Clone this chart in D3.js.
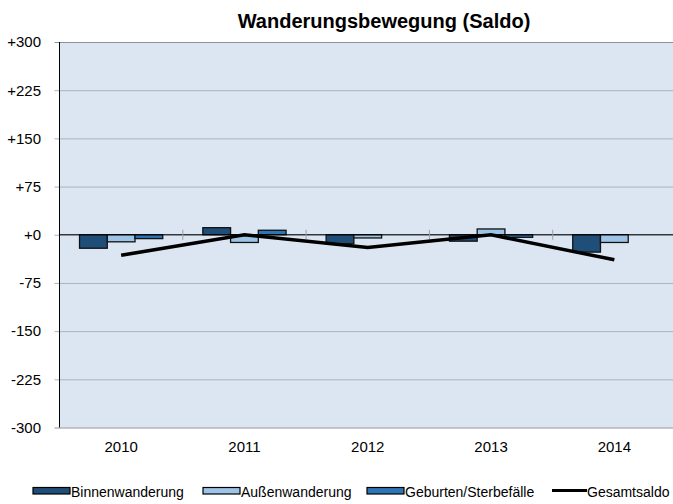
<!DOCTYPE html>
<html>
<head>
<meta charset="utf-8">
<script src="https://cdn.jsdelivr.net/npm/d3@7"></script>
<style>
  body { margin: 0; background: #fff; }
  svg { display: block; font-family: "Liberation Sans", Arial, sans-serif; }
</style>
</head>
<body>
<div id="container"></div>
<script>
const years = ["2010", "2011", "2012", "2013", "2014"];
const seriesNames = ["Binnenwanderung", "Außenwanderung", "Geburten/Sterbefälle"];
const binnen = [-21, 11, -14, -10, -27];
const aussen = [-11, -12, -5, 9, -12];
const geburten = [-6, 7, 0, -4, 0];
const gesamt = [-32, 0, -20, 0, -39];
const yTicks = [-300, -225, -150, -75, 0, 75, 150, 225, 300];
const colors = ["#1f4e79", "#9dc3e6", "#2e75b6"];

const w = 673;
const h = 504;
const plotL = 59.5, plotR = 676, plotT = 42, plotB = 427.5;

const svg = d3.select("#container")
  .append("svg")
  .attr("width", w)
  .attr("height", h);

svg.append("text")
  .attr("x", 384)
  .attr("y", 28)
  .attr("text-anchor", "middle")
  .style("font-size", "20px")
  .style("font-weight", "bold")
  .text("Wanderungsbewegung (Saldo)");

const x0 = d3.scaleBand().domain(years).range([plotL, plotR]);
const groupW = x0.bandwidth() * 0.675;
const x1 = d3.scaleBand().domain(seriesNames).range([0, groupW]);
const y = d3.scaleLinear().domain([-300, 300]).range([plotB, plotT]);

// plot background
svg.append("rect")
  .attr("x", plotL)
  .attr("y", plotT)
  .attr("width", plotR - plotL)
  .attr("height", plotB - plotT)
  .attr("fill", "#dce6f2");

// gridlines + y labels
const yAxis = d3.axisLeft(y)
  .tickValues(yTicks)
  .tickSize(-(plotR - plotL))
  .tickPadding(18.5)
  .tickFormat((d) => (d >= 0 ? "+" : "") + d);
const gy = svg.append("g")
  .attr("transform", "translate(" + plotL + ",0)")
  .call(yAxis);
gy.select(".domain").remove();
gy.selectAll(".tick line")
  .attr("x1", -5)
  .attr("stroke", (d) => (d === 300 || d === -300) ? "#8c9399" : "#a9b3bd")
  .attr("stroke-width", 1);
gy.selectAll(".tick text")
  .style("font-size", "15px")
  .attr("fill", "#000");

// bars
const rows = years.map((yr, i) => ({ year: yr, values: [binnen[i], aussen[i], geburten[i]] }));
const groups = svg.selectAll(".grp")
  .data(rows)
  .enter()
  .append("g")
  .attr("class", "grp")
  .attr("transform", (d) => "translate(" + (x0(d.year) + (x0.bandwidth() - groupW) / 2) + ",0)");

groups.selectAll("rect")
  .data((d) => d.values.map((v, k) => ({ name: seriesNames[k], v: v, k: k })))
  .enter()
  .append("rect")
  .attr("x", (d) => x1(d.name))
  .attr("y", (d) => y(Math.max(0, d.v)))
  .attr("width", x1.bandwidth())
  .attr("height", (d) => Math.abs(y(d.v) - y(0)))
  .attr("fill", (d) => colors[d.k])
  .attr("stroke", "#111")
  .attr("stroke-width", (d) => d.v === 0 ? 0 : 1.3);

// zero axis with category ticks
svg.append("line")
  .attr("x1", plotL)
  .attr("x2", plotR)
  .attr("y1", y(0))
  .attr("y2", y(0))
  .attr("stroke", "#000")
  .attr("stroke-width", 1);

svg.selectAll(".xtick")
  .data(years.slice(1))
  .enter()
  .append("line")
  .attr("x1", (d) => x0(d))
  .attr("x2", (d) => x0(d))
  .attr("y1", y(0) - 5)
  .attr("y2", y(0) + 5)
  .attr("stroke", "#9aa0a6");

// left axis line
svg.append("line")
  .attr("x1", plotL)
  .attr("x2", plotL)
  .attr("y1", plotT)
  .attr("y2", plotB)
  .attr("stroke", "#000");

// x labels
svg.selectAll(".xlab")
  .data(years)
  .enter()
  .append("text")
  .attr("x", (d) => x0(d) + x0.bandwidth() / 2)
  .attr("y", 452)
  .attr("text-anchor", "middle")
  .style("font-size", "15px")
  .text((d) => d);

// Gesamtsaldo line
const line = d3.line()
  .x((d, i) => x0(years[i]) + x0.bandwidth() / 2)
  .y((d) => y(d));
svg.append("path")
  .datum(gesamt)
  .attr("d", line)
  .attr("fill", "none")
  .attr("stroke", "#000")
  .attr("stroke-width", 3.5);

// legend
const legend = svg.append("g");
const boxX = [33, 203, 367];
seriesNames.forEach((name, k) => {
  legend.append("rect")
    .attr("x", boxX[k])
    .attr("y", 487.5)
    .attr("width", 37)
    .attr("height", 6.5)
    .attr("fill", colors[k])
    .attr("stroke", "#000")
    .attr("stroke-width", 1.2);
  legend.append("text")
    .attr("x", boxX[k] + 38)
    .attr("y", 496.5)
    .style("font-size", "14px")
    .text(name);
});
legend.append("line")
  .attr("x1", 552)
  .attr("x2", 587)
  .attr("y1", 490.5)
  .attr("y2", 490.5)
  .attr("stroke", "#000")
  .attr("stroke-width", 3);
legend.append("text")
  .attr("x", 587)
  .attr("y", 496.5)
  .style("font-size", "14px")
  .text("Gesamtsaldo");
</script>
</body>
</html>
